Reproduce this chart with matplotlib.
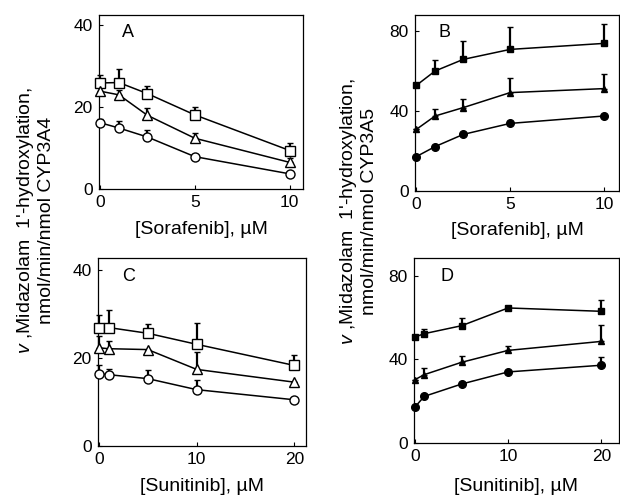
import numpy as np
import matplotlib
matplotlib.use("Agg")
import matplotlib.pyplot as plt

plt.rcParams['font.family'] = ['Liberation Sans', 'DejaVu Sans']
plt.rcParams['mathtext.fontset'] = 'custom'
plt.rcParams['mathtext.it'] = 'Liberation Sans:italic'
plt.rcParams['mathtext.rm'] = 'Liberation Sans'

# 浓度 (uM)
sora_conc = [0, 1, 2.5, 5, 10]
suni_conc = [0, 1, 5, 10, 20]

# A: CYP3A4 + Sorafenib
a_sq = [25.9, 26.0, 23.3, 18.1, 9.4]
a_sq_err = [1.9, 3.4, 1.8, 1.9, 1.8]
a_tri = [23.9, 23.0, 18.0, 12.4, 6.5]
a_tri_err = [1.0, 1.2, 1.8, 1.2, 1.0]
a_cir = [16.2, 14.9, 12.7, 7.9, 3.7]
a_cir_err = [1.0, 1.8, 1.6, 0.0, 0.0]

# B: CYP3A5 + Sorafenib
b_sq = [52.8, 60.0, 65.8, 70.8, 73.8]
b_sq_err = [0.0, 5.5, 9.2, 11.0, 9.5]
b_tri = [30.8, 37.5, 41.7, 49.2, 51.2]
b_tri_err = [0.0, 3.3, 4.1, 7.1, 7.1]
b_cir = [17.2, 22.2, 28.3, 33.8, 37.5]
b_cir_err = [0.0, 0.0, 0.0, 1.2, 0.0]

# C: CYP3A4 + Sunitinib
c_sq = [26.9, 26.9, 25.6, 23.1, 18.3]
c_sq_err = [2.9, 4.0, 2.0, 4.8, 2.3]
c_tri = [22.3, 22.1, 21.9, 17.4, 14.5]
c_tri_err = [2.7, 1.7, 0.0, 4.0, 0.0]
c_cir = [16.4, 16.2, 15.3, 12.8, 10.5]
c_cir_err = [1.9, 1.2, 2.0, 2.1, 0.0]

# D: CYP3A5 + Sunitinib
d_sq = [50.7, 52.3, 56.1, 64.6, 63.0]
d_sq_err = [0.0, 2.2, 3.7, 0.0, 5.6]
d_tri = [30.3, 32.7, 38.6, 44.3, 48.6]
d_tri_err = [0.0, 3.2, 2.9, 2.3, 8.0]
d_cir = [17.2, 22.3, 28.2, 34.0, 37.2]
d_cir_err = [0.0, 0.0, 0.0, 0.0, 3.8]

W, H = 620, 497
fig = plt.figure(figsize=(6.2, 4.97), dpi=100)


def make_ax(l, r, t, b):
    return fig.add_axes([l / W, 1 - b / H, (r - l) / W, (b - t) / H])


def draw(ax, x, series, filled, xlim, ylim, yticks, xticks, letter, lx):
    for y, err, mk in series:
        if filled:
            ms = {'s': 5, '^': 5, 'o': 5.5}[mk]
            mfc = 'black'
        else:
            ms = {'s': 7, '^': 7, 'o': 6.5}[mk]
            mfc = 'white'
        ax.errorbar(x, y, yerr=[np.zeros(len(err)), err], fmt='-', marker=mk,
                    color='black', mfc=mfc, mec='black', ms=ms, mew=1.0,
                    lw=1.1, elinewidth=1.6, capsize=2.2, capthick=1.2,
                    clip_on=False, zorder=3)
    ax.set_xlim(*xlim)
    ax.set_ylim(*ylim)
    ax.set_xticks(xticks)
    ax.set_yticks(yticks)
    ax.tick_params(direction='in', length=3, width=0.8, labelsize=12.5, pad=4.5)
    for s in ax.spines.values():
        s.set_linewidth(0.9)
    ax.text(lx, 0.9, letter, transform=ax.transAxes, fontsize=13,
            ha='center', va='center')


ax_a = make_ax(99, 303, 15, 189)
draw(ax_a, sora_conc, [(a_sq, a_sq_err, 's'), (a_tri, a_tri_err, '^'), (a_cir, a_cir_err, 'o')],
     False, (-0.05, 10.7), (0, 42.5), [0, 20, 40], [0, 5, 10], 'A', 0.14)
ax_a.set_xlabel('[Sorafenib], µM', fontsize=14, labelpad=8)

ax_b = make_ax(415, 619, 15, 191)
draw(ax_b, sora_conc, [(b_sq, b_sq_err, 's'), (b_tri, b_tri_err, '^'), (b_cir, b_cir_err, 'o')],
     True, (-0.07, 10.8), (0, 88), [0, 40, 80], [0, 5, 10], 'B', 0.147)
ax_b.set_xlabel('[Sorafenib], µM', fontsize=14, labelpad=7)

ax_c = make_ax(98, 306, 258, 446)
draw(ax_c, suni_conc, [(c_sq, c_sq_err, 's'), (c_tri, c_tri_err, '^'), (c_cir, c_cir_err, 'o')],
     False, (-0.1, 21.2), (0, 42.7), [0, 20, 40], [0, 10, 20], 'C', 0.145)
ax_c.set_xlabel('[Sunitinib], µM', fontsize=14, labelpad=8)

ax_d = make_ax(414, 619, 258, 443)
draw(ax_d, suni_conc, [(d_sq, d_sq_err, 's'), (d_tri, d_tri_err, '^'), (d_cir, d_cir_err, 'o')],
     True, (-0.1, 21.9), (0, 88.5), [0, 40, 80], [0, 10, 20], 'D', 0.16)
ax_d.set_xlabel('[Sunitinib], µM', fontsize=14, labelpad=10)

# 纵轴标题
fig.text(35 / W, 1 - 220 / H, "$v$ ,Midazolam  1'-hydroxylation,\nnmol/min/nmol CYP3A4",
         rotation=90, ha='center', va='center', fontsize=14, linespacing=1.1)
fig.text(358 / W, 1 - 211 / H, "$v$ ,Midazolam  1'-hydroxylation,\nnmol/min/nmol CYP3A5",
         rotation=90, ha='center', va='center', fontsize=14, linespacing=1.1)

fig.savefig('out.png', dpi=100)
